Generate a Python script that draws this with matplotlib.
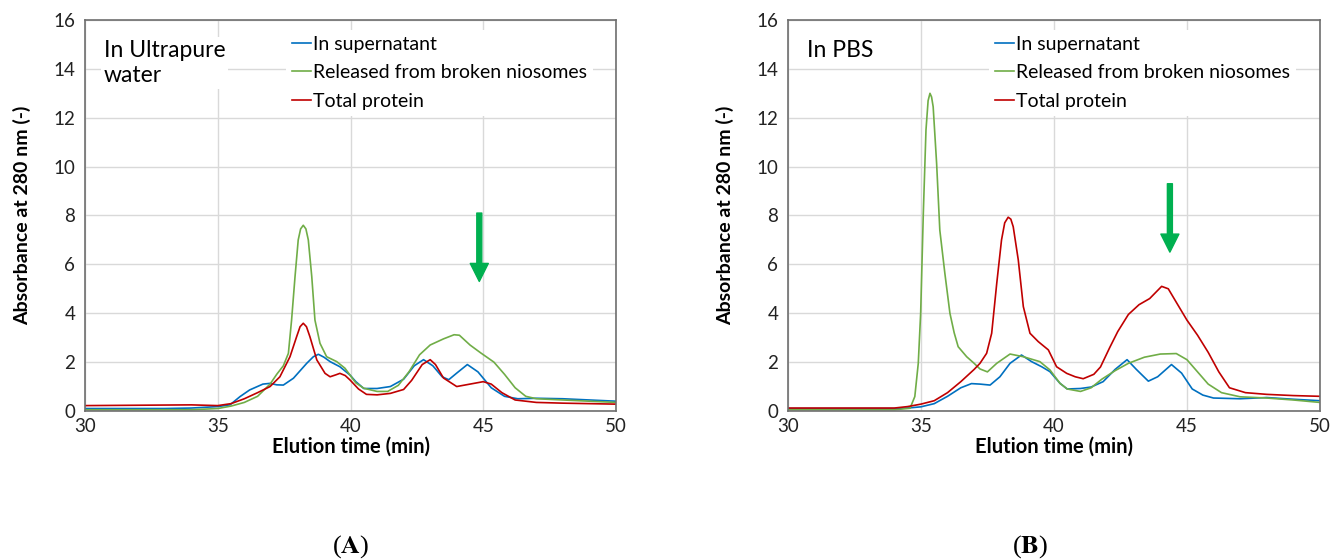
import matplotlib
matplotlib.use("Agg")
import matplotlib.pyplot as plt

plt.rcParams['font.family'] = ['Lato', 'DejaVu Sans']
plt.rcParams['mathtext.fontset'] = 'stix'

# Panel A: in ultrapure water
a_blue_t = [30, 33, 34, 35, 35.46, 35.84, 36.2, 36.7, 36.97, 37.22, 37.47, 37.85, 38.35, 38.6, 38.79, 39.0, 39.23,
            39.6, 39.98, 40.2, 40.5, 41.0, 41.5, 42.0, 42.4, 42.75, 43.1, 43.45, 43.7, 44.0, 44.4, 44.8, 45.3,
            45.8, 46.3, 47, 48, 49, 50]
a_blue_v = [0.1, 0.1, 0.12, 0.18, 0.25, 0.59, 0.86, 1.1, 1.13, 1.07, 1.06, 1.34, 1.95, 2.22, 2.32, 2.2, 2.02,
            1.81, 1.47, 1.2, 0.92, 0.92, 1.0, 1.3, 1.85, 2.1, 1.85, 1.4, 1.28, 1.55, 1.9, 1.6, 0.95,
            0.6, 0.5, 0.52, 0.5, 0.45, 0.4]

a_green_t = [30, 34, 35, 35.5, 36, 36.5, 36.97, 37.22, 37.47, 37.66, 37.78, 37.91, 38.03, 38.12, 38.22, 38.32,
             38.41, 38.54, 38.66, 38.85, 39.1, 39.48, 39.79, 39.98, 40.2, 40.5, 41.0, 41.4, 41.8, 42.2, 42.6,
             43.0, 43.5, 43.9, 44.1, 44.5, 44.9, 45.4, 45.8, 46.2, 46.6, 47.0, 48, 49, 50]
a_green_v = [0.05, 0.05, 0.1, 0.2, 0.35, 0.6, 1.1, 1.5, 1.85, 2.36, 3.72, 5.5, 7.0, 7.45, 7.6, 7.45,
             7.0, 5.5, 3.72, 2.77, 2.22, 2.02, 1.75, 1.47, 1.15, 0.93, 0.8, 0.8, 1.05, 1.6, 2.3,
             2.7, 2.95, 3.12, 3.1, 2.7, 2.38, 2.0, 1.5, 0.95, 0.6, 0.5, 0.45, 0.4, 0.35]

a_red_t = [30, 34, 35, 35.5, 36, 36.5, 36.97, 37.34, 37.72, 37.97, 38.1, 38.22, 38.34, 38.47, 38.73, 39.04, 39.23,
           39.45, 39.6, 39.8, 39.98, 40.3, 40.6, 41.0, 41.5, 42.0, 42.3, 42.7, 43.0, 43.2, 43.5, 44.0, 44.5,
           45.0, 45.3, 45.7, 46.2, 47, 48, 50]
a_red_v = [0.22, 0.25, 0.22, 0.3, 0.5, 0.75, 1.0, 1.4, 2.22, 3.04, 3.45, 3.59, 3.45, 3.04, 2.09, 1.54, 1.4,
           1.48, 1.54, 1.45, 1.27, 0.9, 0.68, 0.66, 0.72, 0.88, 1.25, 1.9, 2.1, 1.9, 1.35, 1.0, 1.1,
           1.2, 1.1, 0.75, 0.45, 0.35, 0.32, 0.28]

# Panel B: in PBS
b_blue_t = [30, 34, 34.5, 35.0, 35.5, 36.0, 36.5, 36.9, 37.22, 37.6, 37.97, 38.35, 38.78, 39.16, 39.54, 39.85,
            40.23, 40.5, 41.0, 41.4, 41.85, 42.3, 42.75, 43.1, 43.55, 43.9, 44.42, 44.8, 45.2, 45.6, 46.0,
            47, 48, 49, 50]
b_blue_v = [0.1, 0.1, 0.12, 0.17, 0.3, 0.6, 0.95, 1.12, 1.1, 1.06, 1.4, 1.95, 2.29, 2.02, 1.81, 1.61,
            1.13, 0.9, 0.92, 0.98, 1.2, 1.7, 2.1, 1.7, 1.22, 1.4, 1.9, 1.55, 0.9, 0.65, 0.53,
            0.5, 0.55, 0.48, 0.42]

b_green_t = [30, 34, 34.59, 34.77, 34.9, 34.99, 35.09, 35.19, 35.27, 35.34, 35.4, 35.46, 35.59, 35.71, 35.9,
             36.09, 36.25, 36.4, 36.72, 37.0, 37.22, 37.5, 37.85, 38.35, 38.85, 39.47, 39.85, 40.23, 40.5,
             41.0, 41.4, 41.8, 42.3, 42.8, 43.4, 44.0, 44.6, 45.0, 45.4, 45.8, 46.3, 47, 48, 49, 50]
b_green_v = [0.05, 0.05, 0.11, 0.59, 1.95, 4.0, 8.1, 11.5, 12.7, 13.0, 12.85, 12.45, 10.13, 7.4, 5.63,
             4.0, 3.2, 2.63, 2.22, 1.95, 1.72, 1.6, 1.95, 2.33, 2.22, 2.02, 1.68, 1.13, 0.9,
             0.8, 0.95, 1.3, 1.65, 1.95, 2.2, 2.33, 2.35, 2.1, 1.6, 1.1, 0.75, 0.58, 0.53, 0.45, 0.35]

b_red_t = [30, 34, 34.5, 35.0, 35.5, 36.0, 36.5, 37.0, 37.22, 37.47, 37.66, 37.85, 38.03, 38.15, 38.28, 38.38,
           38.47, 38.66, 38.85, 39.1, 39.41, 39.79, 40.1, 40.48, 40.8, 41.1, 41.5, 41.75, 42.1, 42.4, 42.8,
           43.2, 43.6, 44.05, 44.3, 44.6, 45.0, 45.4, 45.8, 46.2, 46.6, 47.2, 48, 49, 50]
b_red_v = [0.12, 0.12, 0.18, 0.28, 0.42, 0.75, 1.2, 1.7, 1.95, 2.36, 3.18, 5.22, 7.0, 7.7, 7.93, 7.85,
           7.54, 6.18, 4.27, 3.18, 2.84, 2.5, 1.81, 1.54, 1.4, 1.32, 1.5, 1.8, 2.6, 3.25, 3.95,
           4.35, 4.6, 5.1, 5.0, 4.45, 3.72, 3.1, 2.4, 1.6, 0.95, 0.75, 0.68, 0.63, 0.6]

labels = ["In supernatant", "Released from broken niosomes", "Total protein"]
colors = ["#0070C0", "#70AD47", "#C00000"]

fig = plt.figure(figsize=(13.43, 5.59), dpi=100)
ax_a = fig.add_axes([0.0633, 0.2648, 0.3954, 0.6994])
ax_b = fig.add_axes([0.5867, 0.2648, 0.3961, 0.6994])

panels = [
    (ax_a, [(a_blue_t, a_blue_v), (a_green_t, a_green_v), (a_red_t, a_red_v)], "In Ultrapure\nwater", 44.85, (8.1, 5.3)),
    (ax_b, [(b_blue_t, b_blue_v), (b_green_t, b_green_v), (b_red_t, b_red_v)], "In PBS", 44.36, (9.3, 6.5)),
]

for ax, series, title, ax_x, (y0, y1) in panels:
    for (t, v), lab, c in zip(series, labels, colors):
        ax.plot(t, v, color=c, lw=1.2, label=lab, solid_joinstyle="round")
    ax.set_xlim(30, 50)
    ax.set_ylim(0, 16)
    ax.set_xticks(range(30, 51, 5))
    ax.set_yticks(range(0, 17, 2))
    ax.grid(True, color="#D9D9D9", lw=1)
    ax.set_axisbelow(True)
    ax.tick_params(length=0, labelsize=13.5, pad=7, colors="#222222")
    ax.tick_params(axis="x", pad=5)
    for s in ax.spines.values():
        s.set_color("#6E6E6E")
        s.set_linewidth(1.2)
    ax.set_xlabel("Elution time (min)", fontsize=14.5, fontweight="bold", labelpad=1)
    ax.set_ylabel("Absorbance at 280 nm (-)", fontsize=14, fontweight="bold", labelpad=16)
    ax.text(0.035, 0.95, title, transform=ax.transAxes, fontsize=16.5, va="top", ha="left",
            linespacing=1.25, bbox=dict(facecolor="white", edgecolor="none", pad=2))
    ax.legend(loc="upper left", bbox_to_anchor=(0.36, 1.0), frameon=True, fontsize=14,
              handlelength=1.0, handletextpad=0.1, labelspacing=0.6, borderpad=0.3,
              framealpha=1, edgecolor="none", facecolor="white", fancybox=False)
    ax.annotate("", xy=(ax_x, y1), xytext=(ax_x, y0),
                arrowprops=dict(color="#00B050", width=3.6, headwidth=13, headlength=13, shrink=0))

fig.text(0.2614, 0.012, r"($\mathbf{A}$)", ha="center", fontsize=19, family="Liberation Serif")
fig.text(0.767, 0.012, r"($\mathbf{B}$)", ha="center", fontsize=19, family="Liberation Serif")

fig.savefig("out.png", dpi=100)
